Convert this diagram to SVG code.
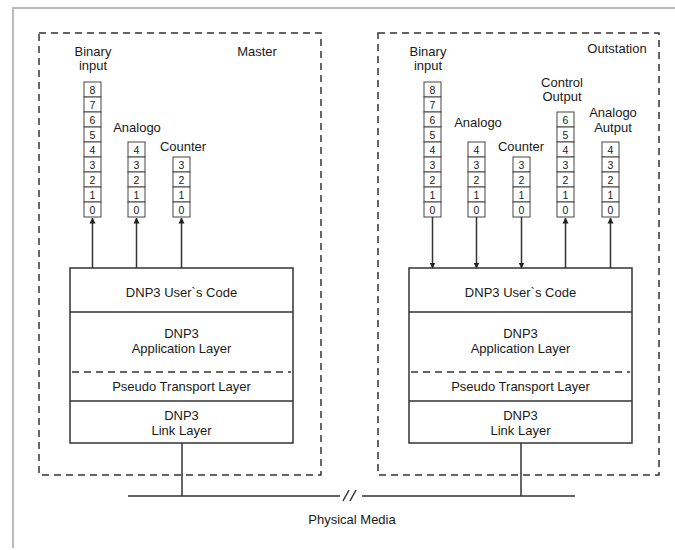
<svg xmlns="http://www.w3.org/2000/svg" width="675" height="550" viewBox="0 0 675 550">
<defs>
<style>
text{font-family:"Liberation Sans",Arial,sans-serif;fill:#1a1a1a;text-anchor:middle}
.lbl{font-size:13px}
.dig{font-size:10.5px}
.box{fill:#fff;stroke:#333;stroke-width:1.5}
.ln{stroke:#333;stroke-width:1.5;fill:none}
.dash{stroke:#333;stroke-width:1.5;fill:none;stroke-dasharray:7 5}
.cell{fill:#fff;stroke:#444;stroke-width:1}
</style>
<marker id="ah" markerWidth="6" markerHeight="7" refX="5.5" refY="3.5" orient="auto" markerUnits="userSpaceOnUse">
<path d="M0,0.5 L6,3.5 L0,6.5 Z" fill="#222"/>
</marker>
<g id="r9">
<rect class="cell" x="0" y="0" width="17" height="15"/><text class="dig" x="8.5" y="11.5">8</text>
<rect class="cell" x="0" y="15" width="17" height="15"/><text class="dig" x="8.5" y="26.5">7</text>
<rect class="cell" x="0" y="30" width="17" height="15"/><text class="dig" x="8.5" y="41.5">6</text>
<rect class="cell" x="0" y="45" width="17" height="15"/><text class="dig" x="8.5" y="56.5">5</text>
<rect class="cell" x="0" y="60" width="17" height="15"/><text class="dig" x="8.5" y="71.5">4</text>
<rect class="cell" x="0" y="75" width="17" height="15"/><text class="dig" x="8.5" y="86.5">3</text>
<rect class="cell" x="0" y="90" width="17" height="15"/><text class="dig" x="8.5" y="101.5">2</text>
<rect class="cell" x="0" y="105" width="17" height="15"/><text class="dig" x="8.5" y="116.5">1</text>
<rect class="cell" x="0" y="120" width="17" height="15"/><text class="dig" x="8.5" y="131.5">0</text>
</g>
<g id="r7">
<rect class="cell" x="0" y="0" width="17" height="15"/><text class="dig" x="8.5" y="11.5">6</text>
<rect class="cell" x="0" y="15" width="17" height="15"/><text class="dig" x="8.5" y="26.5">5</text>
<rect class="cell" x="0" y="30" width="17" height="15"/><text class="dig" x="8.5" y="41.5">4</text>
<rect class="cell" x="0" y="45" width="17" height="15"/><text class="dig" x="8.5" y="56.5">3</text>
<rect class="cell" x="0" y="60" width="17" height="15"/><text class="dig" x="8.5" y="71.5">2</text>
<rect class="cell" x="0" y="75" width="17" height="15"/><text class="dig" x="8.5" y="86.5">1</text>
<rect class="cell" x="0" y="90" width="17" height="15"/><text class="dig" x="8.5" y="101.5">0</text>
</g>
<g id="r5">
<rect class="cell" x="0" y="0" width="17" height="15"/><text class="dig" x="8.5" y="11.5">4</text>
<rect class="cell" x="0" y="15" width="17" height="15"/><text class="dig" x="8.5" y="26.5">3</text>
<rect class="cell" x="0" y="30" width="17" height="15"/><text class="dig" x="8.5" y="41.5">2</text>
<rect class="cell" x="0" y="45" width="17" height="15"/><text class="dig" x="8.5" y="56.5">1</text>
<rect class="cell" x="0" y="60" width="17" height="15"/><text class="dig" x="8.5" y="71.5">0</text>
</g>
<g id="r4">
<rect class="cell" x="0" y="0" width="17" height="15"/><text class="dig" x="8.5" y="11.5">3</text>
<rect class="cell" x="0" y="15" width="17" height="15"/><text class="dig" x="8.5" y="26.5">2</text>
<rect class="cell" x="0" y="30" width="17" height="15"/><text class="dig" x="8.5" y="41.5">1</text>
<rect class="cell" x="0" y="45" width="17" height="15"/><text class="dig" x="8.5" y="56.5">0</text>
</g>
<g id="stack">
<rect class="box" x="0" y="0" width="223" height="175"/>
<line class="ln" x1="0" y1="44" x2="223" y2="44"/>
<line class="dash" x1="2" y1="104" x2="221" y2="104"/>
<line class="ln" x1="0" y1="133" x2="223" y2="133"/>
<text class="lbl" x="111.5" y="28.5">DNP3 User`s Code</text>
<text class="lbl" x="111.5" y="69.5">DNP3</text>
<text class="lbl" x="111.5" y="84.5">Application Layer</text>
<text class="lbl" x="111.5" y="122.5">Pseudo Transport Layer</text>
<text class="lbl" x="111.5" y="151.5">DNP3</text>
<text class="lbl" x="111.5" y="166.5">Link Layer</text>
</g>
</defs>

<g id="frame">
<path d="M13,548 V8 H675" fill="none" stroke="#bbb" stroke-width="2"/>
</g>

<g id="master">
<rect class="dash" x="39" y="33" width="282" height="442"/>
<text class="lbl" x="257" y="56">Master</text>
</g>
<g id="outstation">
<rect class="dash" x="378" y="33" width="281" height="442"/>
<text class="lbl" x="617" y="53">Outstation</text>
</g>

<g id="master-stack"><use href="#stack" x="70" y="268"/></g>
<g id="outstation-stack"><use href="#stack" x="409" y="268"/></g>

<g id="m-binary">
<text class="lbl" x="93" y="56">Binary</text>
<text class="lbl" x="93" y="70">input</text>
<use href="#r9" x="84" y="82"/>
</g>
<g id="m-analogo">
<text class="lbl" x="137" y="132">Analogo</text>
<use href="#r5" x="128" y="142"/>
</g>
<g id="m-counter">
<text class="lbl" x="183" y="151">Counter</text>
<use href="#r4" x="173" y="157"/>
</g>

<g id="o-binary">
<text class="lbl" x="428" y="56">Binary</text>
<text class="lbl" x="428" y="70">input</text>
<use href="#r9" x="424" y="82"/>
</g>
<g id="o-analogo">
<text class="lbl" x="478" y="127">Analogo</text>
<use href="#r5" x="468" y="142"/>
</g>
<g id="o-counter">
<text class="lbl" x="521" y="151">Counter</text>
<use href="#r4" x="513" y="157"/>
</g>
<g id="o-control">
<text class="lbl" x="562" y="87">Control</text>
<text class="lbl" x="562" y="101">Output</text>
<use href="#r7" x="557" y="112"/>
</g>
<g id="o-analogo-out">
<text class="lbl" x="613" y="117">Analogo</text>
<text class="lbl" x="613" y="132">Autput</text>
<use href="#r5" x="602" y="142"/>
</g>

<g id="connectors">
<line class="ln" x1="92.5" y1="268" x2="92.5" y2="218" marker-end="url(#ah)"/>
<line class="ln" x1="136.5" y1="268" x2="136.5" y2="218" marker-end="url(#ah)"/>
<line class="ln" x1="181.5" y1="268" x2="181.5" y2="218" marker-end="url(#ah)"/>
<line class="ln" x1="432.5" y1="217" x2="432.5" y2="268" marker-end="url(#ah)"/>
<line class="ln" x1="476.5" y1="217" x2="476.5" y2="268" marker-end="url(#ah)"/>
<line class="ln" x1="521.5" y1="217" x2="521.5" y2="268" marker-end="url(#ah)"/>
<line class="ln" x1="565.5" y1="268" x2="565.5" y2="218" marker-end="url(#ah)"/>
<line class="ln" x1="610.5" y1="268" x2="610.5" y2="218" marker-end="url(#ah)"/>
<line class="ln" x1="182" y1="443" x2="182" y2="496"/>
<line class="ln" x1="521" y1="443" x2="521" y2="496"/>
<line class="ln" x1="128" y1="496" x2="340" y2="496"/>
<line class="ln" x1="362" y1="496" x2="575" y2="496"/>
<line class="ln" x1="343" y1="501" x2="349" y2="490"/>
<line class="ln" x1="350" y1="501" x2="356" y2="490"/>
</g>
<g id="physical-media">
<text class="lbl" x="352" y="524">Physical Media</text>
</g>
</svg>
